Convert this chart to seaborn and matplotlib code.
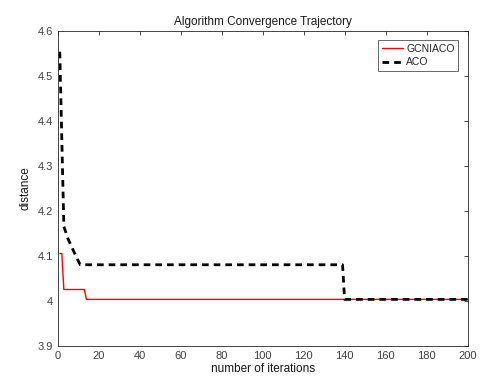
import numpy as np
import pandas as pd
import seaborn as sns
import matplotlib
matplotlib.use("Agg")
import matplotlib.pyplot as plt

# Convergence curves (best distance per iteration, change points only)
gcniaco_iter = [1, 2, 3, 13, 14, 200]
gcniaco_dist = [4.105, 4.105, 4.025, 4.025, 4.003, 4.003]

aco_iter = [1, 3, 4, 5, 7, 9, 11, 139, 140, 200]
aco_dist = [4.554, 4.165, 4.152, 4.138, 4.118, 4.098, 4.080, 4.080, 4.003, 4.003]

x_ticks = list(range(0, 201, 20))
y_ticks = [3.9, 4.0, 4.1, 4.2, 4.3, 4.4, 4.5, 4.6]
y_tick_labels = ["3.9", "4", "4.1", "4.2", "4.3", "4.4", "4.5", "4.6"]

sns.set_style("white")
plt.rcParams['font.family'] = ['Liberation Sans', 'DejaVu Sans']

df = pd.concat([
    pd.DataFrame({"iteration": gcniaco_iter, "distance": gcniaco_dist, "algo": "GCNIACO"}),
    pd.DataFrame({"iteration": aco_iter, "distance": aco_dist, "algo": "ACO"}),
])

fig = plt.figure(figsize=(4.92, 3.91), dpi=100)
ax = fig.add_axes([0.1173, 0.1159, 0.833, 0.8048])

sns.lineplot(data=df[df.algo == "GCNIACO"], x="iteration", y="distance",
             color="#ff0000", linewidth=1.0, label="GCNIACO", ax=ax)
sns.lineplot(data=df[df.algo == "ACO"], x="iteration", y="distance",
             color="black", linewidth=2.0, label="ACO", ax=ax)
ax.lines[1].set_dashes((2.4, 1.8))

ax.set_xlim(0, 200)
ax.set_ylim(3.9, 4.6)
ax.set_xticks(x_ticks)
ax.set_yticks(y_ticks)
ax.set_yticklabels(y_tick_labels)

axis_col = "#262626"
for s in ax.spines.values():
    s.set_color(axis_col)
    s.set_linewidth(0.6)
ax.tick_params(direction="in", length=3, width=0.6, colors=axis_col,
               labelsize=8, top=True, right=True, labelcolor="#404040")

ax.set_xlabel("number of iterations", fontsize=8.5, color="#1a1a1a", labelpad=2)
ax.set_ylabel("distance", fontsize=8.5, color="#1a1a1a", labelpad=4)
ax.set_title("Algorithm Convergence Trajectory", fontsize=8.5, color="#1a1a1a", pad=4)

leg = ax.legend(loc="upper right", fontsize=7.5, frameon=True, fancybox=False,
                edgecolor="#262626", borderpad=0.35, handlelength=2.0,
                handletextpad=0.3, labelspacing=0.3, borderaxespad=0.9)
leg.get_frame().set_linewidth(0.6)

fig.savefig("out.png", dpi=100, facecolor="white")
